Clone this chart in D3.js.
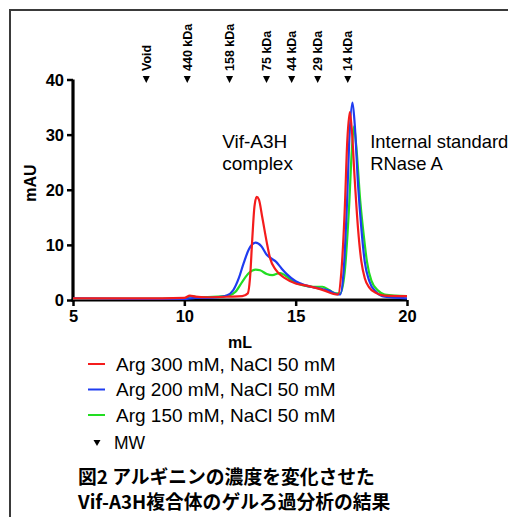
<!DOCTYPE html>
<html><head><meta charset="utf-8">
<script src="https://cdn.jsdelivr.net/npm/d3@7"></script>
<style>
html,body{margin:0;padding:0;background:#fff;}
svg{display:block;}
text{font-family:"Liberation Sans",Arial,sans-serif;}
</style></head>
<body>
<script>
// ---- data ----
const seriesNames = ["Arg 300 mM, NaCl 50 mM","Arg 200 mM, NaCl 50 mM","Arg 150 mM, NaCl 50 mM"];
const seriesColors = ["#f41c1c","#1f3cf0","#22dd22"];
const redX =  [5,8,10,10.25,10.5,11,12,12.6,12.85,12.95,13.05,13.15,13.25,13.35,13.5,13.7,13.85,14.1,14.5,15,15.5,15.9,16.3,16.7,16.9,17.05,17.2,17.32,17.43,17.52,17.65,17.8,17.95,18.1,18.3,18.6,19,20];
const redY =  [0.3,0.3,0.4,0.8,0.6,0.5,0.6,0.7,1.2,4,11,17,18.7,18.2,15,10.5,7.6,5.5,4.0,3.0,2.6,2.2,1.7,1.1,1.0,5,16,29,34.1,31,22,13,7,4,2.3,1.3,0.8,0.7];
const blueX = [5,8,10,10.5,11,11.5,11.9,12.2,12.45,12.65,12.9,13.2,13.45,13.7,13.95,14.1,14.35,14.6,15,15.4,15.8,16.2,16.5,16.8,17.0,17.15,17.3,17.42,17.55,17.65,17.8,17.95,18.1,18.3,18.6,19,20];
const blueY = [0.3,0.2,0.2,0.4,0.4,0.5,0.8,1.8,4,6.5,9.2,10.4,9.8,8.2,7.4,7.0,5.8,4.7,3.4,2.7,2.3,2.0,1.7,1.1,1.0,5,17,30,35.8,32,21,13,7,3.5,1.5,0.6,0.3];
const greenX = [5,8,10,10.3,10.6,11.5,12,12.3,12.6,12.9,13.2,13.4,13.7,13.95,14.3,14.55,14.9,15.3,15.8,16.2,16.5,16.8,17.0,17.2,17.4,17.52,17.62,17.72,17.9,18.05,18.2,18.4,18.7,19,20];
const greenY = [0.2,0.2,0.3,0.7,0.5,0.6,0.8,1.5,3.3,4.9,5.5,5.4,4.7,4.5,4.9,4.4,3.3,2.7,2.4,2.4,1.8,1.2,1.2,5,17,27,31.5,28,18,12,7,3.5,1.7,1.0,0.7];
const markerLabels = ["Void","440 kDa","158 kDa","75 kDa","44 kDa","29 kDa","14 kDa"];
const markerPos = [8.29,10.13,12.03,13.69,14.82,15.99,17.34];
const xTicks = [5,10,15,20];
const yTicks = [0,10,20,30,40];
const annotations = [["Vif-A3H","complex"],["Internal standard","RNase A"]];
const annotationX = [11.7,18.35];
const annotationY = [27.6,27.6];
const annotationSize = [19,18.4];
const caption = ["図2 アルギニンの濃度を変化させた","Vif-A3H複合体のゲルろ過分析の結果"];

// ---- chart ----
const W=508,H=517;
const svg=d3.select("body").append("svg").attr("width",W).attr("height",H);
svg.append("rect").attr("x",10).attr("y",10).attr("width",600).attr("height",600)
  .attr("fill","none").attr("stroke","#3a3a3a").attr("stroke-width",2);

const x=d3.scaleLinear().domain([5,20]).range([73,407]);
const y=d3.scaleLinear().domain([0,40]).range([300,79.5]);

// axes
const xAxis=svg.append("g").attr("transform","translate(0,300)")
  .call(d3.axisBottom(x).tickValues(xTicks).tickSize(6).tickPadding(4).tickFormat(d3.format("d")));
const yAxis=svg.append("g").attr("transform","translate(73,0)")
  .call(d3.axisLeft(y).tickValues(yTicks).tickSize(6).tickPadding(3).tickFormat(d3.format("d")));
[xAxis,yAxis].forEach(g=>{
  g.select(".domain").attr("stroke","#000").attr("stroke-width",3.2);
  g.selectAll(".tick line").attr("stroke","#000").attr("stroke-width",2.5);
  g.selectAll(".tick text").attr("fill","#000").style("font-size","16.5px").style("font-weight","bold")
    .style("font-family","'Liberation Sans',Arial,sans-serif");
});
xAxis.select(".domain").attr("d","M"+(x(5)-1.5)+",0H"+x(20));
yAxis.select(".domain").attr("d","M0,"+(y(0)+1.5)+"V"+y(40));
yAxis.selectAll(".tick text").attr("dy","0.36em");

// axis titles
svg.append("text").attr("x",240).attr("y",348).attr("text-anchor","middle")
  .style("font-size","16px").style("font-weight","bold").text("mL");
svg.append("text").attr("transform","translate(36,183) rotate(-90)").attr("text-anchor","middle")
  .style("font-size","16px").style("font-weight","bold").text("mAU");

// lines
const line=d3.line().x(d=>x(d[0])).y(d=>y(d[1])).curve(d3.curveMonotoneX);
const data=[d3.zip(redX,redY),d3.zip(blueX,blueY),d3.zip(greenX,greenY)];
[2,1,0].forEach(i=>{
  svg.append("path").datum(data[i]).attr("d",line).attr("fill","none")
    .attr("stroke",seriesColors[i]).attr("stroke-width",2.2).attr("stroke-linejoin","round");
});

// MW markers
const mk=svg.append("g");
markerPos.forEach((p,i)=>{
  const cx=x(p);
  mk.append("path").attr("d",`M${cx-3.5},76 L${cx+3.5},76 L${cx},83 Z`).attr("fill","#000");
  mk.append("text").attr("transform",`translate(${cx+4.5},71) rotate(-90)`)
    .style("font-size","12.5px").style("font-weight","bold").text(markerLabels[i]);
});

// annotations
annotations.forEach((a,i)=>{
  a.forEach((t,j)=>{
    svg.append("text").attr("x",x(annotationX[i])).attr("y",y(annotationY[i])+j*22)
      .attr("text-anchor","start").style("font-size",annotationSize[i]+"px").text(t);
  });
});

// legend
const lg=svg.append("g");
seriesNames.forEach((n,i)=>{
  const yy=364+i*25.5;
  lg.append("line").attr("x1",88).attr("x2",105).attr("y1",yy).attr("y2",yy)
    .attr("stroke",seriesColors[i]).attr("stroke-width",2);
  lg.append("text").attr("x",116).attr("y",yy+6.5).style("font-size","19px").text(n);
});
lg.append("path").attr("d","M93.5,440 L100.5,440 L97,446 Z").attr("fill","#000");
lg.append("text").attr("x",114).attr("y",449).style("font-size","17.5px").text("MW");

// caption
caption.forEach((c,i)=>{
  svg.append("text").attr("x",78).attr("y",484+i*24.5)
    .style("font-family","'Noto Sans CJK JP','Liberation Sans',sans-serif")
    .style("font-size","18.8px").style("font-weight","bold").text(c);
});
</script>
</body></html>
